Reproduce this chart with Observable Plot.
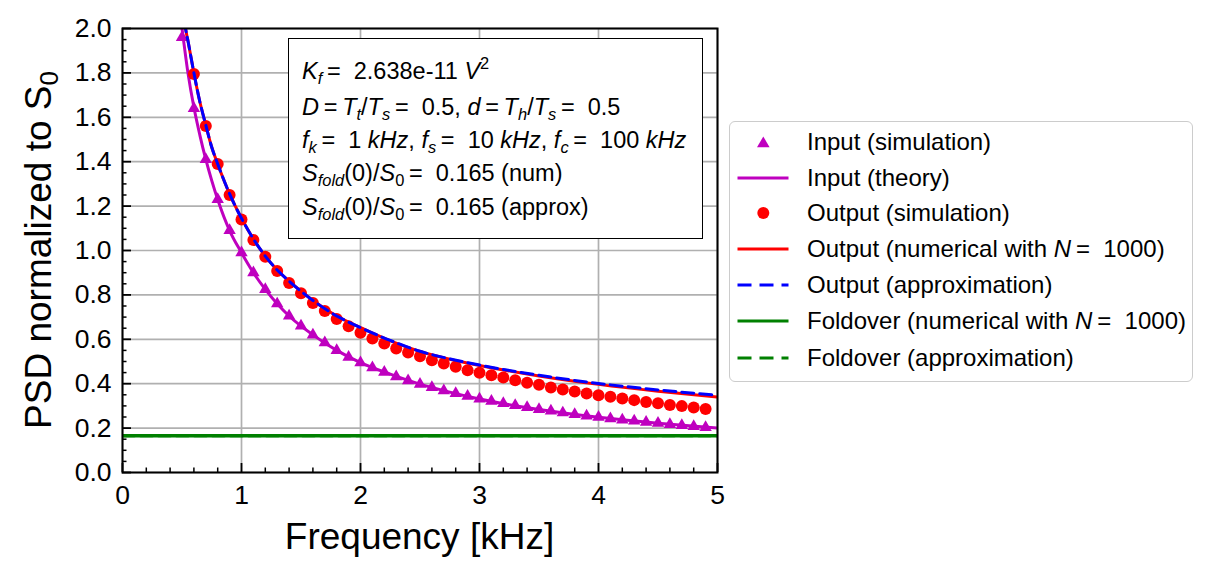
<!DOCTYPE html>
<html>
<head>
<meta charset="utf-8">
<script src="https://cdn.jsdelivr.net/npm/d3@7"></script>
<script src="https://cdn.jsdelivr.net/npm/@observablehq/plot@0.6"></script>
<style>
  html, body { margin: 0; padding: 0; background: #fff; }
  body { font-family: "Liberation Sans", Arial, sans-serif; }
  #wrap { position: relative; width: 1211px; height: 574px; overflow: hidden; }
  #wrap svg { position: absolute; left: 0; top: 0; }
  .t { position: absolute; white-space: nowrap; line-height: 1; color: #000; }
  .box { position: absolute; border: 1.8px solid #000; background: #fff; box-sizing: border-box; }
  .leg { position: absolute; border: 1.8px solid #cccccc; border-radius: 6px; background: #fff; box-sizing: border-box; }
  sub { font-size: 70%; vertical-align: -0.3em; line-height: 0; }
  sup { font-size: 70%; vertical-align: 0.6em; line-height: 0; }
</style>
</head>
<body>
<div id="wrap"></div>
<script>
// ---- data ----
const inFreq = [0.5,0.6,0.7,0.8,0.9,1.0,1.1,1.2,1.3,1.4,1.5,1.6,1.7,1.8,1.9,2.0,2.1,2.2,2.3,2.4,2.5,2.6,2.7,2.8,2.9,3.0,3.1,3.2,3.3,3.4,3.5,3.6,3.7,3.8,3.9,4.0,4.1,4.2,4.3,4.4,4.5,4.6,4.7,4.8,4.9];
const inputSim = [1.96,1.64,1.41,1.23,1.09,0.99,0.90,0.825,0.76,0.705,0.66,0.62,0.585,0.55,0.52,0.495,0.472,0.452,0.432,0.414,0.398,0.383,0.369,0.356,0.344,0.331,0.321,0.311,0.302,0.293,0.284,0.277,0.269,0.262,0.255,0.249,0.243,0.237,0.232,0.227,0.222,0.217,0.212,0.208,0.203];

const outFreq = [0.6,0.7,0.8,0.9,1.0,1.1,1.2,1.3,1.4,1.5,1.6,1.7,1.8,1.9,2.0,2.1,2.2,2.3,2.4,2.5,2.6,2.7,2.8,2.9,3.0,3.1,3.2,3.3,3.4,3.5,3.6,3.7,3.8,3.9,4.0,4.1,4.2,4.3,4.4,4.5,4.6,4.7,4.8,4.9];
const outputSim = [1.795,1.561,1.39,1.25,1.14,1.047,0.972,0.908,0.854,0.807,0.764,0.728,0.691,0.659,0.629,0.604,0.581,0.559,0.541,0.524,0.506,0.491,0.476,0.461,0.449,0.438,0.428,0.416,0.404,0.395,0.383,0.374,0.365,0.356,0.348,0.341,0.333,0.326,0.318,0.312,0.304,0.299,0.293,0.286];

const inTheoryFreq = [0.49,0.5,0.55,0.6,0.65,0.7,0.75,0.8,0.9,1.0,1.1,1.2,1.3,1.4,1.6,1.8,2.0,2.25,2.5,2.75,3.0,3.5,4.0,4.5,5.0];
const inputTheory  = [2.04,2.0,1.80,1.645,1.52,1.41,1.315,1.23,1.09,0.99,0.90,0.825,0.76,0.705,0.62,0.55,0.495,0.443,0.398,0.362,0.331,0.284,0.249,0.222,0.200];

const outLineFreq  = [0.52,0.53,0.55,0.6,0.65,0.7,0.75,0.8,0.9,1.0,1.1,1.2,1.3,1.4,1.6,1.8,2.0,2.25,2.5,2.75,3.0,3.5,4.0,4.5,5.0];
const outputNum    = [2.04,2.0,1.945,1.80,1.67,1.565,1.465,1.39,1.255,1.145,1.052,0.975,0.912,0.862,0.775,0.705,0.653,0.593,0.545,0.51,0.482,0.435,0.397,0.366,0.340];
const outputApprox = [2.04,2.0,1.945,1.80,1.67,1.565,1.465,1.39,1.255,1.145,1.052,0.975,0.912,0.862,0.775,0.705,0.653,0.595,0.546,0.512,0.484,0.438,0.401,0.372,0.348];

const foldFreq   = [0, 5];
const foldNum    = [0.165, 0.165];
const foldApprox = [0.165, 0.165];

const xTicks = [0,1,2,3,4,5];
const xMinor = [0.2,0.4,0.6,0.8,1.2,1.4,1.6,1.8,2.2,2.4,2.6,2.8,3.2,3.4,3.6,3.8,4.2,4.4,4.6,4.8];
const yTicks = [0,0.2,0.4,0.6,0.8,1.0,1.2,1.4,1.6,1.8,2.0];
const yMinor = [0.05,0.1,0.15,0.25,0.3,0.35,0.45,0.5,0.55,0.65,0.7,0.75,0.85,0.9,0.95,1.05,1.1,1.15,1.25,1.3,1.35,1.45,1.5,1.55,1.65,1.7,1.75,1.85,1.9,1.95];

const C_IN = "#bf00bf", C_OUT = "#ff0000", C_APX = "#0000ff", C_FOLD = "#008000";

const pts = (xs, ys) => xs.map((f, i) => ({f, v: ys[i]}));

const plot = Plot.plot({
  width: 1211,
  height: 574,
  marginLeft: 122,
  marginRight: 494,
  marginTop: 28,
  marginBottom: 102,
  style: {fontFamily: "'Liberation Sans', Arial, sans-serif", fontSize: "26.5px", color: "#000", background: "transparent", overflow: "visible"},
  x: {domain: [0, 5], label: null},
  y: {domain: [0, 2], label: null},
  marks: [
    Plot.gridX(xTicks, {stroke: "#b0b0b0", strokeOpacity: 1, strokeWidth: 1.7}),
    Plot.gridY(yTicks, {stroke: "#b0b0b0", strokeOpacity: 1, strokeWidth: 1.7}),
    Plot.dot(pts(inFreq, inputSim), {x: "f", y: "v", symbol: "triangle", r: 4.6, fill: C_IN, stroke: null}),
    Plot.line(pts(inTheoryFreq, inputTheory), {x: "f", y: "v", stroke: C_IN, strokeWidth: 3, curve: "monotone-x", clip: true}),
    Plot.dot(pts(outFreq, outputSim), {x: "f", y: "v", symbol: "circle", r: 6, fill: C_OUT, stroke: null}),
    Plot.line(pts(outLineFreq, outputNum), {x: "f", y: "v", stroke: C_OUT, strokeWidth: 3, curve: "monotone-x", clip: true}),
    Plot.line(pts(outLineFreq, outputApprox), {x: "f", y: "v", stroke: C_APX, strokeWidth: 3, strokeDasharray: "12,6", curve: "monotone-x", clip: true}),
    Plot.line(pts(foldFreq, foldNum), {x: "f", y: "v", stroke: C_FOLD, strokeWidth: 3.5, clip: true}),
    Plot.line(pts(foldFreq, foldApprox), {x: "f", y: "v", stroke: C_FOLD, strokeWidth: 3, strokeDasharray: "12,6", clip: true}),
    Plot.axisX(xTicks, {tickSize: 0, tickPadding: 12.5, tickFormat: d => String(d), label: null}),
    Plot.axisX(xTicks, {tickSize: -9, tickFormat: () => "", label: null, strokeWidth: 1.8}),
    Plot.axisX(xMinor, {tickSize: -4.5, tickFormat: () => "", label: null, strokeWidth: 1.5}),
    Plot.axisY(yTicks, {tickSize: 0, tickPadding: 11, tickFormat: d => d.toFixed(1), label: null}),
    Plot.axisY(yTicks, {tickSize: -9, tickFormat: () => "", label: null, strokeWidth: 1.8}),
    Plot.axisY(yMinor, {tickSize: -4.5, tickFormat: () => "", label: null, strokeWidth: 1.5}),
    Plot.frame({stroke: "#000", strokeWidth: 2})
  ]
});

const wrap = document.getElementById("wrap");
wrap.appendChild(plot);

function addText(html, left, centerY, size, extra) {
  const d = document.createElement("div");
  d.className = "t";
  d.style.left = left + "px";
  d.style.top = (centerY - 0.49 * size) + "px";
  d.style.fontSize = size + "px";
  if (extra) Object.assign(d.style, extra);
  d.innerHTML = html;
  wrap.appendChild(d);
  return d;
}

// axis titles
const xl = addText("Frequency [kHz]", 419.5, 536, 37);
xl.style.transform = "translateX(-50%)";
const yl = document.createElement("div");
yl.className = "t";
yl.style.fontSize = "37px";
yl.style.left = "38px";
yl.style.top = "250px";
yl.style.transform = "translate(-50%,-50%) rotate(-90deg)";
yl.innerHTML = "PSD normalized to S<sub>0</sub>";
wrap.appendChild(yl);

// annotation box
const box = document.createElement("div");
box.className = "box";
Object.assign(box.style, {left: "288px", top: "38px", width: "415px", height: "201px"});
wrap.appendChild(box);
const EQ = "&thinsp;=&nbsp;&nbsp;";
const annLines = [
  `<i>K<sub>f</sub></i>${EQ}2.638e-11 <i>V</i><sup>2</sup>`,
  `<i>D</i>&thinsp;=&thinsp;<i>T<sub>t</sub></i>/<i>T<sub>s</sub></i>${EQ}0.5, <i>d</i>&thinsp;=&thinsp;<i>T<sub>h</sub></i>/<i>T<sub>s</sub></i>${EQ}0.5`,
  `<i>f<sub>k</sub></i>${EQ}1 <i>kHz</i>, <i>f<sub>s</sub></i>${EQ}10 <i>kHz</i>, <i>f<sub>c</sub></i>${EQ}100 <i>kHz</i>`,
  `<i>S<sub>fold</sub></i>(0)/<i>S</i><sub>0</sub>${EQ}0.165 (num)`,
  `<i>S<sub>fold</sub></i>(0)/<i>S</i><sub>0</sub>${EQ}0.165 (approx)`
];
const annY = [72, 107.5, 140.5, 174, 207.5];
annLines.forEach((h, i) => addText(h, 302, annY[i], 23.5));

// legend
const leg = document.createElement("div");
leg.className = "leg";
Object.assign(leg.style, {left: "729px", top: "121px", width: "464px", height: "261px"});
wrap.appendChild(leg);
const legendItems = [
  {label: "Input (simulation)", kind: "tri", color: C_IN},
  {label: "Input (theory)", kind: "line", color: C_IN},
  {label: "Output (simulation)", kind: "dot", color: C_OUT},
  {label: "Output (numerical with <i>N</i>&thinsp;=&nbsp;&nbsp;1000)", kind: "line", color: C_OUT},
  {label: "Output (approximation)", kind: "dash", color: C_APX},
  {label: "Foldover (numerical with <i>N</i>&thinsp;=&nbsp;&nbsp;1000)", kind: "line", color: C_FOLD},
  {label: "Foldover (approximation)", kind: "dash", color: C_FOLD}
];
const legY = [141.5, 177.5, 213, 248.5, 285, 321, 357.5];
const ns = "http://www.w3.org/2000/svg";
legendItems.forEach((it, i) => {
  const s = document.createElementNS(ns, "svg");
  s.setAttribute("width", 60); s.setAttribute("height", 20);
  s.style.left = "735px"; s.style.top = (legY[i] - 10) + "px"; s.style.position = "absolute";
  let el;
  if (it.kind === "tri") {
    el = document.createElementNS(ns, "path");
    el.setAttribute("d", "M28.3,4.5 L34.6,15.3 L22,15.3 Z");
    el.setAttribute("fill", it.color);
  } else if (it.kind === "dot") {
    el = document.createElementNS(ns, "circle");
    el.setAttribute("cx", 28.3); el.setAttribute("cy", 10); el.setAttribute("r", 6);
    el.setAttribute("fill", it.color);
  } else {
    el = document.createElementNS(ns, "line");
    el.setAttribute("x1", 2.5); el.setAttribute("x2", 53.5);
    el.setAttribute("y1", 10); el.setAttribute("y2", 10);
    el.setAttribute("stroke", it.color); el.setAttribute("stroke-width", 3);
    if (it.kind === "dash") el.setAttribute("stroke-dasharray", "14,8");
  }
  s.appendChild(el);
  wrap.appendChild(s);
  addText(it.label, 807, legY[i], 24);
});
</script>
</body>
</html>
